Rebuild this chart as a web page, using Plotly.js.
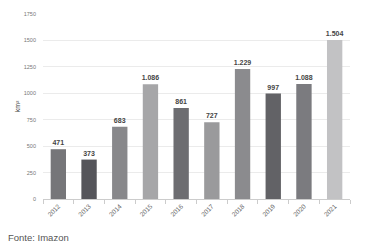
<!DOCTYPE html>
<html><head><meta charset="utf-8">
<script src="https://cdn.plot.ly/plotly-3.0.1.min.js"></script>
<style>html,body{margin:0;padding:0;background:#fff;}#chart{width:379px;height:249px;}</style>
</head><body><div id="chart"></div>
<script>
const years = ['2012','2013','2014','2015','2016','2017','2018','2019','2020','2021'];
const values = [471, 373, 683, 1086, 861, 727, 1229, 997, 1088, 1504];
const labels = ['471','373','683','1.086','861','727','1.229','997','1.088','1.504'];
const barColors = ['#767679','#55555a','#88888b','#a6a6a8','#6d6d71','#9a9a9c','#8b8b8e','#626266','#7b7b7f','#c2c2c4'];
const yTicks = [0,250,500,750,1000,1250,1500,1750];
const yTickText = ['0','250','500','750','1000','1250','1500','1750'];

Plotly.newPlot('chart', [{
  type: 'bar', x: years, y: values, text: labels,
  textposition: 'outside', cliponaxis: false, constraintext: 'none',
  outsidetextfont: {family: 'Liberation Sans, Arial', size: 7, color: '#444444', weight: 'bold'},
  marker: {color: barColors}, hoverinfo: 'none'
}], {
  width: 379, height: 249,
  margin: {l: 43, r: 29, t: 14, b: 50},
  paper_bgcolor: '#fff', plot_bgcolor: '#fff',
  bargap: 0.5, showlegend: false,
  font: {family: 'Liberation Sans, Arial', color: '#777'},
  xaxis: {type: 'category', tickangle: -45, tickfont: {size: 6.5, color: '#666'},
    showline: true, linecolor: '#ccc', linewidth: 1,
    ticks: 'outside', ticklen: 4, tickcolor: '#ccc', tickson: 'boundaries', showgrid: false},
  yaxis: {range: [0, 1750], tickvals: yTicks, ticktext: yTickText, tickfont: {size: 5.5, color: '#777'},
    ticklabelstandoff: 6,
    showgrid: true, gridcolor: '#ebebeb', zeroline: false, ticks: '', ticklen: 0,
    title: {text: 'km²', font: {size: 7, color: '#444'}, standoff: 2}},
  annotations: [{text: 'Fonte: Imazon', xref: 'paper', yref: 'paper', x: -0.12, y: -0.165,
    xanchor: 'left', yanchor: 'top', showarrow: false, font: {size: 9.5, color: '#555', family: 'Liberation Sans, Arial'}}]
}, {displayModeBar: false, staticPlot: true});
</script></body></html>
